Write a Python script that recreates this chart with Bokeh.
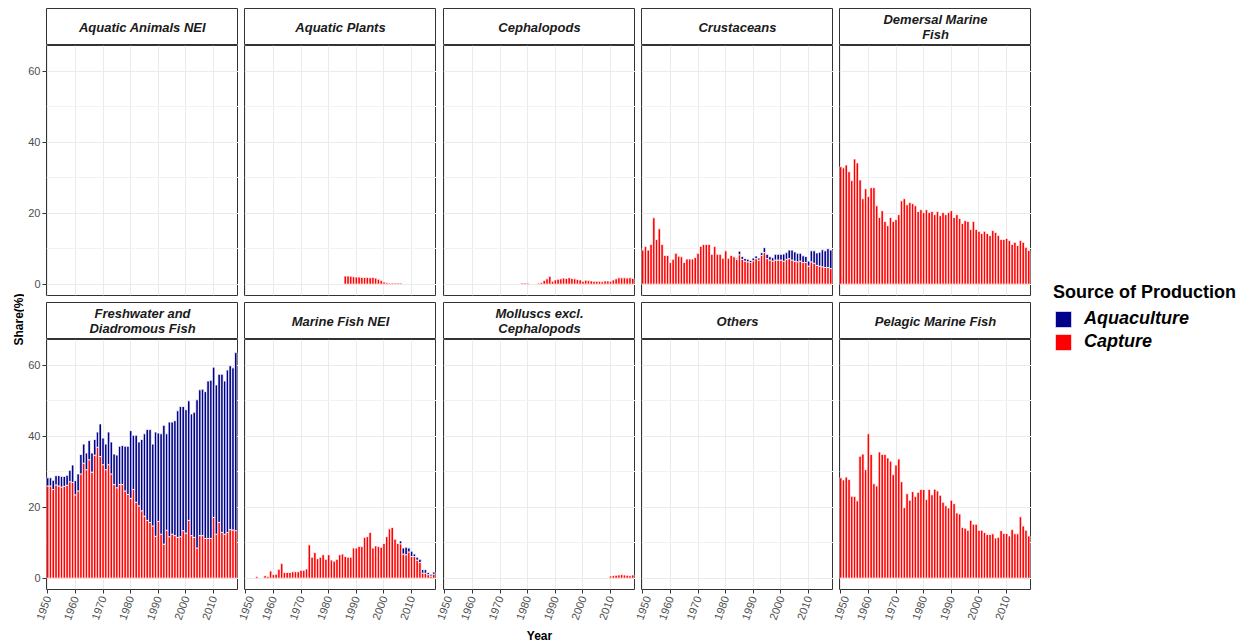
import math
from bokeh.plotting import figure
from bokeh.layouts import row, column
from bokeh.models import Range1d, FixedTicker, Legend, LegendItem, ColumnDataSource
from bokeh.core.properties import value
from bokeh.embed import file_html
from bokeh.resources import INLINE

FONT = "Liberation Sans"
RED = "#FF0000"
BLUE = "#00008B"

years = list(range(1950, 2019))

panel_titles = ["Aquatic Animals NEI", "Aquatic Plants", "Cephalopods", "Crustaceans",
                "Demersal Marine\nFish", "Freshwater and\nDiadromous Fish", "Marine Fish NEI",
                "Molluscs excl.\nCephalopods", "Others", "Pelagic Marine Fish"]

# ---- data (share %) ----
animals_years = []
animals_capture = []

plants_years = list(range(1986, 2007))
plants_capture = [2.3, 2.3, 2.2, 2.1, 2.0, 2.0, 1.9, 1.9, 1.9, 1.8, 1.9, 1.7, 1.4, 1.0, 0.6,
                  0.4, 0.3, 0.3, 0.3, 0.3, 0.3]

cephalo_years = [1978, 1979, 1980] + list(range(1984, 2019))
cephalo_capture = [0.3, 0.3, 0.3, 0.3, 0.5, 1.0, 1.5, 2.2, 0.8, 1.2, 1.4, 1.5, 1.7, 1.6, 1.8,
                   1.6, 1.5, 1.3, 1.2, 0.8, 1.1, 1.0, 0.9, 0.8, 0.8, 0.8, 0.7, 0.9, 0.9, 0.8,
                   1.2, 1.5, 1.8, 1.8, 1.8, 1.7, 1.8, 1.6]

crust_capture = [9.6, 10.6, 9.6, 11.2, 18.7, 12.6, 15.6, 11.2, 8.1, 8.1,
                 6.1, 7.0, 8.7, 7.9, 7.7, 6.1, 7.1, 7.1, 7.1, 7.5,
                 8.7, 10.7, 11.2, 11.2, 11.2, 8.4, 10.6, 8.4, 8.4, 7.3,
                 9.4, 7.3, 8.1, 7.7, 7.0, 8.3, 7.0, 6.5, 6.3, 6.1,
                 6.6, 7.2, 6.8, 8.1, 8.9, 7.2, 6.8, 6.5, 6.8, 6.8,
                 6.8, 6.5, 7.0, 7.2, 6.8, 6.5, 6.3, 6.5, 6.1, 6.1,
                 5.1, 6.3, 5.9, 5.3, 5.1, 4.9, 4.7, 4.7, 4.4]
crust_aqua = [0.0] * 34 + [0.3, 1.0, 0.8, 0.75, 0.74, 0.56,
                           0.75, 0.74, 0.56, 0.75, 1.4, 1.2, 0.94, 0.93, 1.6, 1.6,
                           1.6, 2.0, 1.9, 2.4, 2.8, 2.6, 2.4, 2.2, 1.9, 1.7,
                           1.4, 3.1, 3.5, 3.5, 3.9, 4.8, 4.7, 5.3, 5.2]

demersal_capture = [33.1, 32.8, 33.6, 31.7, 29.2, 35.3, 34.2, 29.4, 24.1, 26.9,
                    24.7, 27.2, 27.2, 22.1, 18.8, 20.7, 17.7, 16.5, 18.8, 17.7,
                    18.2, 19.6, 23.5, 24.1, 22.4, 23.0, 22.7, 22.1, 20.5, 21.0,
                    20.2, 21.0, 20.2, 20.5, 19.6, 20.5, 19.3, 20.2, 19.6, 20.2,
                    20.7, 18.8, 19.6, 18.5, 17.1, 17.9, 17.7, 15.4, 17.7, 15.4,
                    14.9, 14.3, 14.9, 14.3, 13.7, 15.1, 14.6, 13.7, 12.6, 12.6,
                    12.9, 12.3, 11.2, 11.8, 10.9, 12.3, 11.8, 10.4, 9.5]

fresh_capture = [26.0, 26.0, 25.0, 26.3, 26.0, 25.7, 25.9, 26.2, 27.2, 27.0,
                 23.5, 24.6, 29.4, 32.4, 30.6, 33.4, 29.9, 34.7, 36.9, 34.3,
                 32.0, 30.6, 32.0, 29.4, 26.4, 25.5, 26.4, 26.4, 24.6, 23.6,
                 22.5, 25.0, 21.4, 20.4, 19.0, 17.5, 16.3, 15.7, 14.7, 11.8,
                 16.0, 12.4, 9.6, 13.5, 11.7, 12.4, 12.0, 11.5, 11.7, 13.4,
                 12.7, 16.3, 12.0, 11.5, 8.5, 12.0, 12.0, 11.2, 11.2, 11.2,
                 17.1, 12.4, 15.7, 12.9, 12.4, 12.9, 13.7, 13.6, 13.4]
fresh_aqua = [2.3, 2.3, 2.6, 2.6, 2.9, 3.0, 2.8, 2.8, 3.2, 4.9,
              4.0, 4.8, 5.5, 5.4, 4.7, 5.4, 5.4, 4.4, 4.3, 9.2,
              7.5, 7.2, 9.2, 9.0, 8.6, 9.2, 10.8, 11.0, 12.6, 13.6,
              19.1, 15.3, 18.9, 18.0, 20.1, 23.2, 25.6, 26.2, 23.1, 29.4,
              24.9, 28.3, 33.5, 27.2, 32.3, 31.6, 32.4, 35.7, 36.7, 35.0,
              34.8, 33.7, 34.3, 35.3, 41.8, 41.1, 41.3, 41.4, 44.4, 44.6,
              42.4, 42.1, 41.8, 44.6, 43.2, 45.8, 46.2, 45.7, 50.2]

marine_capture = [0.0, 0.0, 0.0, 0.0, 0.5, 0.0, 0.0, 0.7, 0.5, 2.0,
                  1.0, 1.1, 2.5, 4.1, 1.6, 1.6, 1.6, 1.8, 1.8, 1.8,
                  2.2, 2.2, 2.6, 9.4, 5.9, 7.2, 5.5, 5.9, 6.6, 5.3,
                  6.6, 5.1, 4.8, 5.3, 6.6, 6.8, 6.1, 5.9, 5.9, 8.5,
                  8.5, 8.9, 8.9, 11.5, 11.7, 12.9, 8.5, 9.1, 8.9, 8.7,
                  9.8, 11.7, 13.9, 14.3, 11.0, 9.8, 9.7, 6.8, 6.6, 7.4,
                  6.1, 6.1, 5.1, 4.4, 1.4, 1.4, 1.0, 0.6, 1.1]
marine_aqua = [0.0] * 56 + [0.8, 1.7, 2.1, 1.1, 1.5, 0.7, 0.8, 0.9, 1.0, 1.0, 0.6, 0.5, 0.6]

mollusc_years = list(range(2010, 2019))
mollusc_capture = [0.6, 0.7, 0.8, 0.9, 1.0, 0.9, 0.8, 0.7, 0.9]

others_years = []
others_capture = []

pelagic_capture = [28.3, 27.7, 28.5, 27.8, 23.1, 23.0, 21.8, 34.4, 35.0, 30.6,
                   40.7, 34.9, 26.6, 26.0, 35.6, 34.9, 34.9, 33.9, 33.0, 29.2,
                   31.9, 33.6, 27.2, 19.9, 23.8, 22.0, 24.4, 23.0, 24.2, 25.0,
                   25.0, 22.2, 25.0, 23.5, 25.1, 24.6, 23.4, 21.4, 20.4, 19.8,
                   22.0, 21.0, 18.4, 18.1, 14.3, 14.1, 13.5, 16.3, 15.2, 15.2,
                   13.5, 13.5, 12.9, 12.3, 12.3, 12.5, 11.3, 11.5, 13.4, 12.6,
                   12.6, 11.9, 13.7, 12.5, 12.5, 17.3, 14.7, 13.5, 11.9]

x_ticks = [1950, 1960, 1970, 1980, 1990, 2000, 2010]
y_ticks = [0, 20, 40, 60]


def full(sub_years, vals):
    d = dict(zip(sub_years, vals))
    return [d.get(y, 0.0) for y in years]


zeros = [0.0] * len(years)
series = [
    (full(animals_years, animals_capture), zeros),
    (full(plants_years, plants_capture), zeros),
    (full(cephalo_years, cephalo_capture), zeros),
    (crust_capture, crust_aqua),
    (demersal_capture, zeros),
    (fresh_capture, fresh_aqua),
    (marine_capture, marine_aqua),
    (full(mollusc_years, mollusc_capture), zeros),
    (full(others_years, others_capture), zeros),
    (pelagic_capture, zeros),
]

FRAME_W = 192
FRAME_H = 250
STRIP_H = 37
TOP_PAD = 8
LEFT_BORDERS = [22, 6, 7, 6, 6]


def make_strip(label, col, top_pad):
    s = figure(frame_width=FRAME_W, frame_height=STRIP_H, x_range=Range1d(0, 1), y_range=Range1d(0, 1),
               x_axis_location=None, y_axis_location=None, output_backend="svg", toolbar_location=None,
               min_border_left=LEFT_BORDERS[col], min_border_right=0, min_border_top=top_pad,
               min_border_bottom=0)
    s.grid.visible = False
    s.outline_line_color = "#333333"
    s.outline_line_width = 1
    s.background_fill_color = "white"
    s.text(x=[0.5], y=[0.5], text=[label], text_align="center", text_baseline="middle",
           text_font=value(FONT), text_font_style="bold italic", text_font_size="13px",
           text_color="#1A1A1A", text_line_height=0.95)
    return s


def make_panel(idx, col, bottom_row):
    cap, aq = series[idx]
    p = figure(frame_width=FRAME_W, frame_height=FRAME_H,
               x_range=Range1d(1949.55, 2019.0), y_range=Range1d(-3.2, 67.3),
               x_axis_location="below" if bottom_row else None,
               y_axis_location="left" if col == 0 else None,
               output_backend="svg", toolbar_location=None,
               min_border_left=LEFT_BORDERS[col], min_border_right=0, min_border_top=0,
               min_border_bottom=0 if bottom_row else 7)
    p.outline_line_color = "#333333"
    p.outline_line_width = 1
    p.xgrid.ticker = FixedTicker(ticks=x_ticks)
    p.ygrid.ticker = FixedTicker(ticks=y_ticks, minor_ticks=[10, 30, 50])
    p.xgrid.grid_line_color = "#EBEBEB"
    p.ygrid.grid_line_color = "#EBEBEB"
    p.ygrid.minor_grid_line_color = "#F2F2F2"

    xs, c_top, a_bot, a_top, xa = [], [], [], [], []
    for y, c, a in zip(years, cap, aq):
        if c > 0:
            xs.append(y)
            c_top.append(c)
        if a > 0:
            xa.append(y)
            a_bot.append(c)
            a_top.append(c + a)
    src_c = ColumnDataSource(dict(x=xs, top=c_top))
    src_a = ColumnDataSource(dict(x=xa, bottom=a_bot, top=a_top))
    p.vbar(x="x", top="top", bottom=0, width=0.9, source=src_c,
           fill_color=RED, line_color="white", line_width=0.8)
    p.vbar(x="x", top="top", bottom="bottom", width=0.9, source=src_a,
           fill_color=BLUE, line_color="white", line_width=0.8)

    if col == 0:
        ax = p.yaxis[0]
        ax.ticker = FixedTicker(ticks=y_ticks)
        ax.axis_line_color = None
        ax.major_tick_line_color = "#333333"
        ax.major_tick_in = 0
        ax.major_tick_out = 4
        ax.minor_tick_line_color = None
        ax.major_label_text_font = FONT
        ax.major_label_text_font_size = "11px"
        ax.major_label_text_color = "#4D4D4D"
        ax.major_label_standoff = 2
    if bottom_row:
        ax = p.xaxis[0]
        ax.ticker = FixedTicker(ticks=x_ticks)
        ax.axis_line_color = None
        ax.major_tick_line_color = "#333333"
        ax.major_tick_in = 0
        ax.major_tick_out = 4
        ax.minor_tick_line_color = None
        ax.major_label_text_font = FONT
        ax.major_label_text_font_size = "11px"
        ax.major_label_text_color = "#4D4D4D"
        ax.major_label_orientation = math.radians(70)
        ax.major_label_standoff = 3
        if col == 2:
            ax.axis_label = "Year"
            ax.axis_label_text_font = FONT
            ax.axis_label_text_font_size = "12px"
            ax.axis_label_text_font_style = "bold"
            ax.axis_label_text_color = "#000000"
            ax.axis_label_standoff = 4
    return p


TOTAL_H = 636

top_cells = []
bot_cells = []
for col in range(5):
    top_cells.append(column(make_strip(panel_titles[col], col, TOP_PAD), make_panel(col, col, False)))
    bot_cells.append(column(make_strip(panel_titles[col + 5], col, 0), make_panel(col + 5, col, True)))
grid = column(row(*top_cells), row(*bot_cells))

# y axis title
ylab = figure(width=24, height=TOTAL_H, x_range=Range1d(0, 24), y_range=Range1d(0, TOTAL_H),
              x_axis_location=None, y_axis_location=None, output_backend="svg", toolbar_location=None,
              min_border=0)
ylab.grid.visible = False
ylab.outline_line_color = None
ylab.text(x=[18], y=[TOTAL_H - 319], text=["Share(%)"], angle=math.pi / 2,
          text_align="center", text_baseline="middle", text_font=value(FONT),
          text_font_style="bold", text_font_size="12px", text_color="#000000")

# legend
LEG_W = 208
leg = figure(width=LEG_W, height=TOTAL_H, x_range=Range1d(0, 1), y_range=Range1d(0, 1),
             x_axis_location=None, y_axis_location=None, output_backend="svg", toolbar_location=None,
             min_border=0)
leg.grid.visible = False
leg.outline_line_color = None
r_a = leg.vbar(x=[-5], top=[-5], bottom=[-6], width=1, fill_color=BLUE, line_color="white", line_width=0.6)
r_c = leg.vbar(x=[-5], top=[-5], bottom=[-6], width=1, fill_color=RED, line_color="white", line_width=0.6)
legend = Legend(items=[LegendItem(label="Aquaculture", renderers=[r_a]),
                       LegendItem(label="Capture", renderers=[r_c])],
                location=(22, 284), title="Source of Production",
                title_text_font=FONT, title_text_font_size="18px", title_text_font_style="bold",
                title_text_color="#000000", title_standoff=5,
                label_text_font=FONT, label_text_font_size="18px", label_text_font_style="bold italic",
                label_text_color="#000000", glyph_width=20, glyph_height=20, label_height=20,
                spacing=2, label_standoff=11, padding=0, margin=0,
                border_line_color=None, background_fill_alpha=0)
leg.add_layout(legend, "center")

page = row(ylab, grid, leg)

open("out.html", "w").write(file_html(page, INLINE))
